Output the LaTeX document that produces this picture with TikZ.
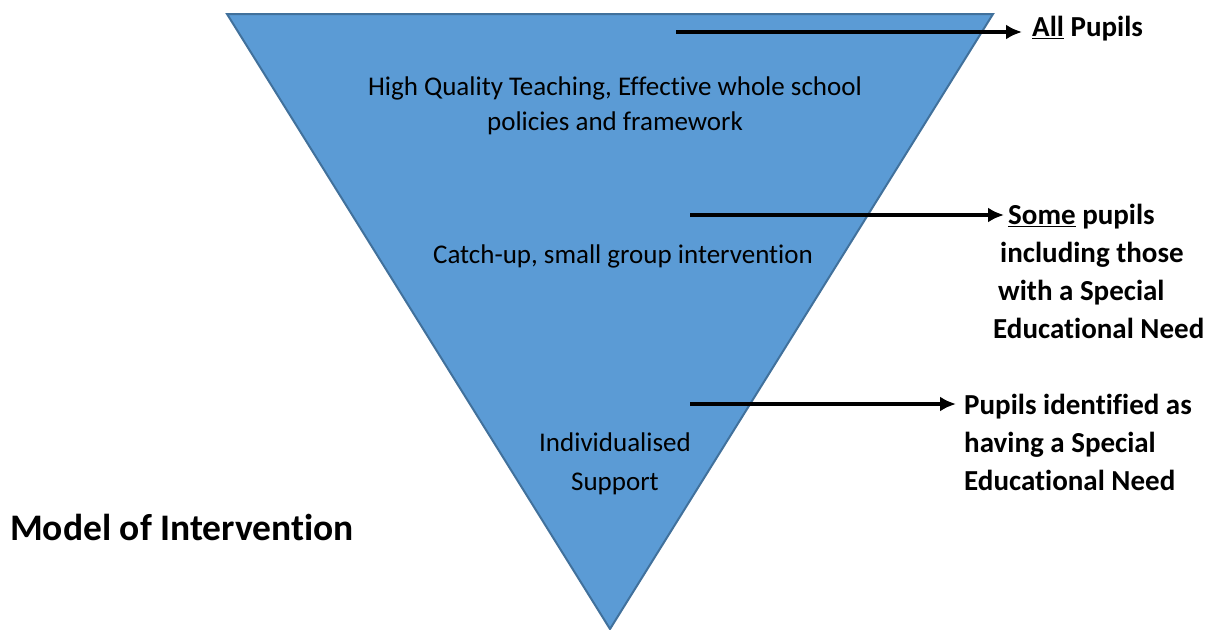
\documentclass[tikz,border=0pt]{standalone}
\usepackage{fontspec}
\setmainfont{Carlito}[Ligatures=NoCommon]
\usetikzlibrary{arrows.meta}
\definecolor{T1}{HTML}{5B9BD5}
\definecolor{T2}{HTML}{41719C}
\tikzset{lvl/.style = {
    align = center,
    font = \fontsize{27}{35}\selectfont,
    inner sep = 0pt,
}}
\tikzset{who/.style = {
    align = left,
    anchor = north west,
    font = \bfseries\fontsize{29}{38}\selectfont,
    inner sep = 0pt,
}}
\tikzset{pointer/.style = {
    line width = 3.5pt,
    -{Latex[length=16pt,width=15pt]},
}}

\begin{document}
\begin{tikzpicture}[x=1pt,y=-1pt]
  \useasboundingbox (0,0) rectangle (1217,629);
  \fill[white] (0,0) rectangle (1217,629);
  \filldraw[fill=T1,draw=T2,line width=2pt] (227,14) -- (993,14) -- (610,629) -- cycle;
  \node[lvl](top) at (615,106) {High Quality Teaching, Effective whole school\\policies and framework};
  \node[lvl](mid) at (623,256) {Catch-up, small group intervention};
  \node[lvl,font=\fontsize{27}{39}\selectfont](low) at (615,464) {Individualised\\Support};
  \node[font=\bfseries\fontsize{37.5}{42}\selectfont,anchor=west,inner sep=0pt](title) at (10,527) {Model of Intervention};
  \node[who,anchor=west](all) at (1032,29) {\underline{All} Pupils};
  \node[who](some) at (993,204) {\hspace*{15pt}\underline{Some} pupils\\\hspace*{7pt}including those\\\hspace*{5pt}with a Special\\Educational Need};
  \node[who](sen) at (964,394) {Pupils identified as\\having a Special\\Educational Need};
  \coordinate (s1) at (676,32);
  \coordinate (s2) at (690,215);
  \coordinate (s3) at (690,404);
  \draw[pointer] (s1) -- ([xshift=-10pt]s1 -| all.west);
  \draw[pointer] (s2) -- ([xshift=11pt]s2 -| some.west);
  \draw[pointer] (s3) -- ([xshift=-8pt]s3 -| sen.west);
\end{tikzpicture}
\end{document}
